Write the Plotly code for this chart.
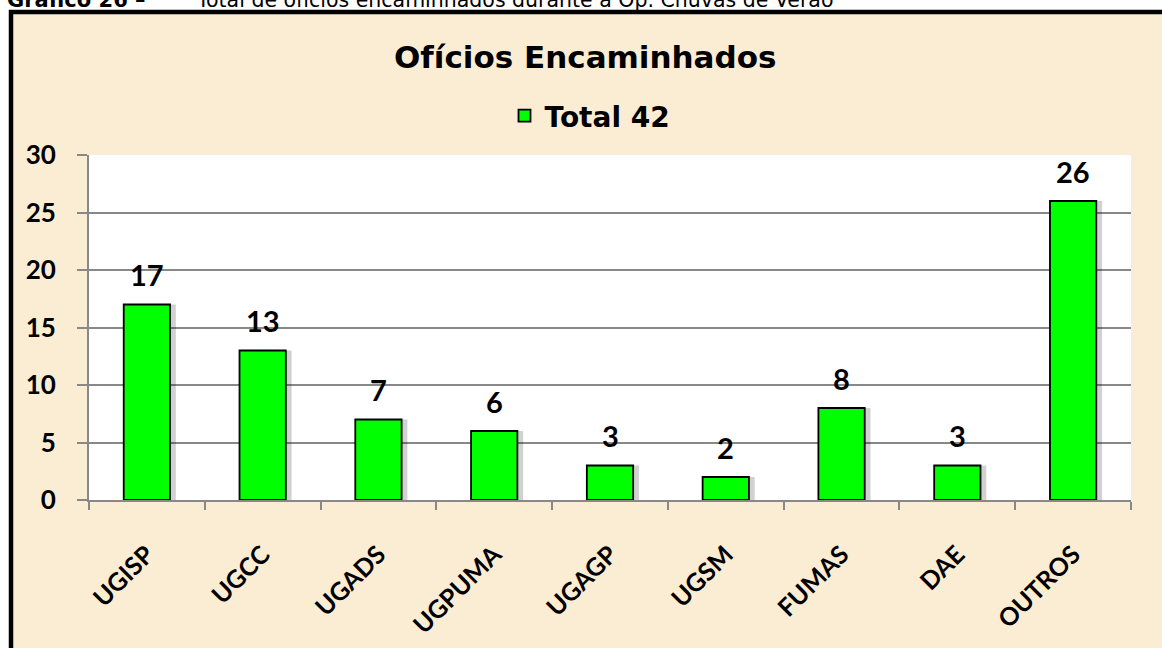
import plotly.graph_objects as go

categories = ["UGISP", "UGCC", "UGADS", "UGPUMA", "UGAGP", "UGSM", "FUMAS", "DAE", "OUTROS"]
values = [17, 13, 7, 6, 3, 2, 8, 3, 26]
series_name = "Total 42"
chart_title = "Ofícios Encaminhados"
caption_bold = "Gráfico 26 –"
caption_rest = "Total de ofícios encaminhados durante a Op. Chuvas de Verão"
y_ticks = [0, 5, 10, 15, 20, 25, 30]

W, H = 1162, 648
ML, MR, MT, MB = 89, 31, 155, 148
PW = W - ML - MR
PH = H - MT - MB

def px_x(p):
    return (p - ML) / PW

def px_y(p):
    return (H - MB - p) / PH

BW = 0.40
fig = go.Figure()
# shadow
fig.add_trace(go.Bar(
    x=categories, y=values, width=BW, offset=-BW / 2 + 0.05,
    marker=dict(color="rgba(0,0,0,0.18)", line=dict(width=0)),
    showlegend=False, hoverinfo="skip",
))
fig.add_trace(go.Bar(
    x=categories, y=values, width=BW, offset=-BW / 2, name=series_name,
    marker=dict(color="#00FF00", line=dict(color="#000000", width=1.8)),
    showlegend=True,
))

for c, v in zip(categories, values):
    fig.add_annotation(x=c, y=v, xref="x", yref="y", text=f"<b>{v}</b>",
                       showarrow=False, yanchor="middle", yshift=30,
                       font=dict(family="Lato", size=29, color="#000000"))

fig.add_annotation(x=px_x(585), y=px_y(57), xref="paper", yref="paper",
                   text=f"<b>{chart_title}</b>", showarrow=False,
                   xanchor="center", yanchor="middle",
                   font=dict(family="DejaVu Sans", size=31, color="#000000"))

fig.add_annotation(x=px_x(5), y=px_y(0), xref="paper", yref="paper",
                   text=f"<b>{caption_bold}</b>", showarrow=False,
                   xanchor="left", yanchor="middle",
                   font=dict(family="DejaVu Sans", size=21, color="#000000"))
fig.add_annotation(x=px_x(194), y=px_y(0), xref="paper", yref="paper",
                   text=caption_rest, showarrow=False,
                   xanchor="left", yanchor="middle",
                   font=dict(family="DejaVu Sans", size=20.5, color="#000000"))

shapes = [
    dict(type="rect", xref="paper", yref="paper", layer="below",
         x0=px_x(11), x1=px_x(1200), y0=px_y(700), y1=px_y(12),
         fillcolor="#FAEDD3", line=dict(color="#000000", width=4.5)),
    dict(type="rect", xref="paper", yref="paper", layer="below",
         x0=0, x1=1, y0=0, y1=1, fillcolor="#FFFFFF", line=dict(width=0)),
]

fig.update_layout(
    width=W, height=H,
    margin=dict(l=ML, r=MR, t=MT, b=MB, autoexpand=False),
    paper_bgcolor="#FFFFFF", plot_bgcolor="#FFFFFF",
    barmode="overlay", shapes=shapes,
    showlegend=True,
    legend=dict(x=px_x(590), y=px_y(116), xanchor="center", yanchor="middle",
                orientation="h", bgcolor="rgba(0,0,0,0)",
                font=dict(family="DejaVu Sans", size=28, color="#000000", weight="bold"),
                itemwidth=30),
    xaxis=dict(type="category", categoryorder="array", categoryarray=categories,
               automargin=False,
               showline=True, linecolor="#888888", linewidth=2,
               ticks="outside", tickson="boundaries", ticklen=8, tickcolor="#888888", tickwidth=2,
               tickangle=-45, showgrid=False, ticklabelstandoff=28,
               tickfont=dict(family="Lato", size=25, color="#000000", weight="bold")),
    yaxis=dict(range=[0, 30], tickvals=y_ticks, automargin=False,
               showline=True, linecolor="#888888", linewidth=2,
               ticks="outside", ticklen=10, tickcolor="#888888", tickwidth=2,
               showgrid=True, gridcolor="#888888", gridwidth=1.5, zeroline=False,
               ticklabelstandoff=16,
               tickfont=dict(family="Lato", size=26, color="#000000", weight="bold")),
)

fig.write_html("out.html", config={"displayModeBar": False},
               post_script="document.body.style.margin='0px';")
